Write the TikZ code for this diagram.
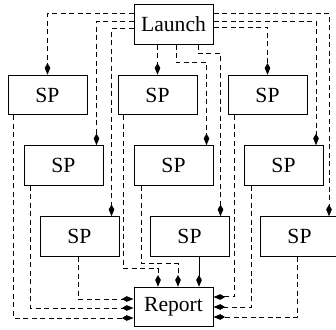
\documentclass[tikz,border=0pt]{standalone}
\usepackage{fontspec}
\setmainfont{Liberation Serif}
\usetikzlibrary{arrows.meta, calc}

\begin{document}
\begin{tikzpicture}[
    x=0.5pt, y=-0.5pt,
    block/.style={rectangle, draw, line width=0.5pt, minimum width=39.5pt, minimum height=19.75pt, inner sep=0pt, font=\fontsize{10.8}{12}\selectfont},
    line/.style={draw, line width=0.5pt, dash pattern=on 2.5pt off 1.75pt, -{Kite[length=5.8pt, width=2.8pt, inset=2.4pt]}}
]
    \useasboundingbox (0,0) rectangle (336,330);

    %% START AND END
    \node [block] (launch) at (173.5,24.5) {Launch};
    \node [block] (report) at (173.5,307) {Report};

    %% SP GRID, three staggered rows
    \node [block] (sp11) at (47.5,95) {SP};
    \node [block] (sp12) at (157.5,95) {SP};
    \node [block] (sp13) at (267.5,95) {SP};

    \node [block] (sp21) at (63.5,165.5) {SP};
    \node [block] (sp22) at (173.5,165.5) {SP};
    \node [block] (sp23) at (283.5,165.5) {SP};

    \node [block] (sp31) at (79.5,236.5) {SP};
    \node [block] (sp32) at (189.5,236.5) {SP};
    \node [block] (sp33) at (299.5,236.5) {SP};

    % Launch to left column
    \draw [line] ($(launch.west)+(0,-11)$) -| (sp11.north);
    \draw [line] ($(launch.west)+(0,-3)$) -| ($(sp21.north east)+(-7,0)$);
    \draw [line] ($(launch.west)+(0,4)$) -| ($(sp31.north east)+(-8,0)$);

    % Launch to middle column
    \draw [line] (launch.south -| sp12.north) -- (sp12.north);
    \draw [line] ($(launch.south)+(2.5,0)$) -- ++(0,18) -| ($(sp22.north east)+(-7,0)$);
    \draw [line] ($(launch.south)+(24.5,0)$) -- ++(0,9) -| ($(sp32.north east)+(-9,0)$);

    % Launch to right column
    \draw [line] ($(launch.east)+(0,-11)$) -| ($(sp33.north east)+(-10.5,0)$);
    \draw [line] ($(launch.east)+(0,-3)$) -| ($(sp23.north east)+(-7.5,0)$);
    \draw [line] ($(launch.east)+(0,3)$) -| (sp13.north);

    % Left column to report
    \draw [line] ($(sp11.south west)+(6,0)$) |- ($(report.west)+(0,11)$);
    \draw [line] ($(sp21.south west)+(7,0)$) |- ($(report.west)+(0,1)$);
    \draw [line] ($(sp31.south)+(-1.5,0)$) |- ($(report.west)+(0,-8)$);

    % Middle column to report
    \draw [line] ($(sp12.south west)+(6,0)$) |- ($(report.north)+(-15.5,-18)$) -- ($(report.north)+(-15.5,0)$);
    \draw [line] ($(sp22.south west)+(8,0)$) |- ($(report.north)+(4.5,-23)$) -- ($(report.north)+(4.5,0)$);
    \draw [line, solid] ($(sp32.south)+(9.5,0)$) -- ($(report.north)+(25.5,0)$);

    % Right column to report
    \draw [line] ($(sp13.south west)+(7,0)$) |- ($(report.east)+(0,-10)$);
    \draw [line] ($(sp23.south west)+(8,0)$) |- (report.east);
    \draw [line] ($(sp33.south)+(-2,0)$) |- ($(report.east)+(0,10)$);

\end{tikzpicture}
\end{document}
